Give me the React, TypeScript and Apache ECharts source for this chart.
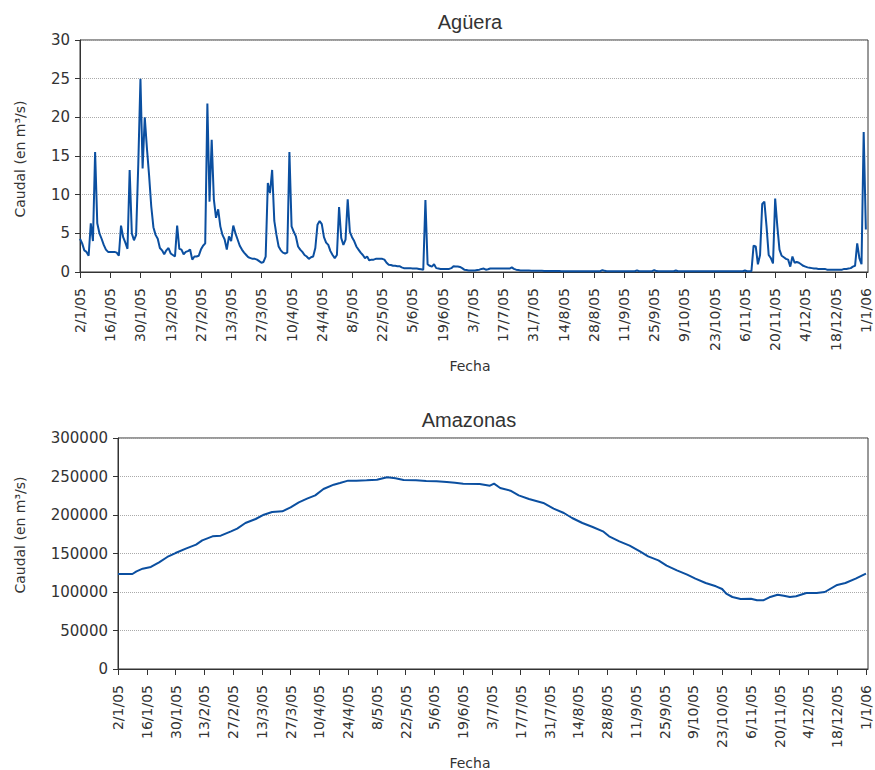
import React, { useEffect, useRef } from 'react';
import * as echarts from 'echarts';

const tickLabels = [
  '2/1/05', '16/1/05', '30/1/05', '13/2/05', '27/2/05', '13/3/05', '27/3/05', '10/4/05', '24/4/05',
  '8/5/05', '22/5/05', '5/6/05', '19/6/05', '3/7/05', '17/7/05', '31/7/05', '14/8/05', '28/8/05',
  '11/9/05', '25/9/05', '9/10/05', '23/10/05', '6/11/05', '20/11/05', '4/12/05', '18/12/05', '1/1/06',
];

// Agüera daily flow, day 0 = 2/1/05
const agueraFlow = [
  4.3, 3.7, 2.8, 2.6, 2.1, 6.3, 4.0, 15.5, 6.3, 5.0,
  4.3, 3.5, 2.9, 2.6, 2.6, 2.6, 2.6, 2.5, 2.1, 6.0,
  4.5, 3.8, 3.0, 13.2, 5.0, 4.1, 4.8, 14.0, 25.0, 13.4,
  20.0, 16.0, 12.5, 8.5, 5.8, 4.8, 4.3, 3.1, 2.8, 2.3,
  2.8, 3.1, 2.4, 2.2, 2.0, 6.0, 3.0, 2.9, 2.3, 2.6,
  2.7, 2.9, 1.6, 2.0, 2.0, 2.1, 2.9, 3.4, 3.7, 21.8,
  9.1, 17.1, 9.4, 7.0, 8.1, 5.9, 4.8, 4.2, 2.9, 4.6,
  4.0, 6.0, 5.0, 4.2, 3.4, 2.9, 2.5, 2.2, 1.9, 1.8,
  1.7, 1.7, 1.6, 1.4, 1.2, 1.3, 2.0, 11.5, 10.2, 13.2,
  6.6, 4.8, 3.3, 2.8, 2.5, 2.4, 2.5, 15.5, 5.9, 5.2,
  4.6, 3.3, 2.9, 2.6, 2.2, 2.0, 1.7, 1.9, 2.0, 3.1,
  6.1, 6.6, 6.2, 4.5, 3.8, 3.5, 2.7, 2.2, 1.8, 2.2,
  8.4, 4.4, 3.5, 4.2, 9.4, 5.2, 4.5, 4.0, 3.3, 2.9,
  2.5, 2.2, 1.8, 2.0, 1.5, 1.6, 1.6, 1.7, 1.7, 1.7,
  1.7, 1.6, 1.2, 0.95, 0.9, 0.8, 0.8, 0.75, 0.75, 0.6,
  0.5, 0.5, 0.5, 0.5, 0.45, 0.45, 0.45, 0.4, 0.35, 0.3,
  9.3, 1.0, 0.8, 0.7, 1.0, 0.5, 0.45, 0.4, 0.4, 0.4,
  0.4, 0.4, 0.5, 0.75, 0.7, 0.7, 0.65, 0.5, 0.3, 0.25,
  0.2, 0.2, 0.2, 0.2, 0.25, 0.3, 0.4, 0.45, 0.3, 0.35,
  0.45, 0.45, 0.45, 0.45, 0.45, 0.45, 0.45, 0.45, 0.45, 0.45,
  0.6, 0.4, 0.3, 0.25, 0.2, 0.2, 0.2, 0.18, 0.18, 0.17,
  0.17, 0.16, 0.16, 0.15, 0.15, 0.14, 0.13, 0.13, 0.13, 0.12,
  0.12, 0.12, 0.12, 0.11, 0.11, 0.11, 0.11, 0.1, 0.1, 0.1,
  0.1, 0.1, 0.1, 0.1, 0.1, 0.1, 0.1, 0.1, 0.1, 0.1,
  0.1, 0.1, 0.25, 0.15, 0.1, 0.1, 0.1, 0.1, 0.1, 0.1,
  0.1, 0.1, 0.1, 0.1, 0.1, 0.1, 0.1, 0.1, 0.22, 0.1,
  0.1, 0.1, 0.1, 0.1, 0.1, 0.1, 0.25, 0.12, 0.1, 0.1,
  0.1, 0.1, 0.1, 0.1, 0.1, 0.1, 0.2, 0.1, 0.1, 0.1,
  0.1, 0.1, 0.1, 0.1, 0.1, 0.1, 0.1, 0.1, 0.1, 0.1,
  0.1, 0.1, 0.1, 0.1, 0.1, 0.1, 0.1, 0.1, 0.1, 0.1,
  0.1, 0.1, 0.1, 0.1, 0.1, 0.1, 0.1, 0.1, 0.2, 0.1,
  0.1, 0.1, 3.4, 3.3, 1.0, 2.2, 8.8, 9.1, 5.9, 2.2,
  1.8, 1.1, 9.5, 5.9, 2.9, 2.1, 1.9, 1.7, 1.6, 0.7,
  2.0, 1.2, 1.3, 1.2, 1.0, 0.8, 0.7, 0.6, 0.55, 0.5,
  0.45, 0.45, 0.4, 0.4, 0.4, 0.4, 0.3, 0.3, 0.3, 0.3,
  0.3, 0.3, 0.3, 0.3, 0.4, 0.4, 0.45, 0.5, 0.7, 0.8,
  3.7, 1.8, 1.0, 18.1, 5.5,
];

// Amazonas flow, sampled days (day 0 = 2/1/05)
const amazonasDays = [
  0, 7, 9, 12, 16, 20, 24, 28, 33, 38,
  41, 46, 50, 55, 58, 62, 67, 71, 75, 80,
  84, 88, 92, 96, 100, 105, 108, 112, 116, 121,
  126, 131, 135, 139, 145, 150, 155, 160, 164, 168,
  176, 181, 183, 186, 191, 195, 200, 207, 212, 217,
  221, 226, 231, 236, 239, 244, 249, 254, 258, 263,
  267, 272, 277, 281, 286, 291, 294, 296, 299, 303,
  308, 311, 314, 317, 321, 324, 327, 330, 335, 340,
  344, 350, 354, 359, 364,
];
const amazonasFlow = [
  123400, 123400, 126800, 130300, 132500, 138500, 145500, 150600, 156300, 161500,
  167100, 172300, 173200, 178800, 182300, 189600, 194800, 200400, 203900, 204800,
  210000, 216500, 221200, 225500, 233800, 239400, 241600, 244600, 244600, 245000,
  245900, 248900, 247600, 245500, 245000, 244200, 243700, 242900, 241800, 240700,
  240300, 238100, 240700, 235100, 231600, 225500, 220800, 215600, 208200, 202600,
  196100, 189600, 184400, 178800, 172300, 165800, 160200, 152800, 146300, 141100,
  134200, 128100, 122500, 117300, 111700, 107400, 103900, 97800, 93500, 90900,
  91300, 89200, 89200, 93100, 96500, 95200, 93500, 94400, 98700, 98700,
  100000, 109100, 111700, 117300, 123800,
];

const FONT = 'DejaVu Sans';
const TEXT = '#333';
const LINE = '#0b4fa0';

export default function App() {
  const ref = useRef<HTMLDivElement>(null);
  useEffect(() => {
    if (!ref.current) return;
    const chart = echarts.init(ref.current, null, { renderer: 'svg' });
    const tickDays = tickLabels.map((_, i) => i * 14);
    const labelMap = new Map<number, string>(tickDays.map((d, i) => [d, tickLabels[i]]));

    const xAxis = (gridIndex: number) => ({
      type: 'value',
      gridIndex,
      min: 0,
      max: 365,
      axisLine: { show: true, onZero: false, lineStyle: { color: TEXT, width: 1 } },
      axisTick: { show: true, length: 6, customValues: tickDays, lineStyle: { color: TEXT } },
      axisLabel: {
        customValues: tickDays,
        rotate: 90,
        margin: 16,
        fontFamily: FONT,
        fontSize: 14,
        color: TEXT,
        formatter: (v: number) => labelMap.get(v) ?? '',
      },
      splitLine: { show: false },
    });
    const yAxis = (gridIndex: number, max: number, interval: number) => ({
      type: 'value',
      gridIndex,
      min: 0,
      max,
      interval,
      axisLine: { show: true, lineStyle: { color: TEXT, width: 1 } },
      axisTick: { show: true, length: 5, lineStyle: { color: TEXT } },
      axisLabel: {
        margin: 10,
        fontFamily: FONT,
        fontSize: 15,
        color: TEXT,
        formatter: (v: number) => String(v),
      },
      splitLine: { show: true, lineStyle: { color: '#aaa', type: 'dotted', width: 1 } },
    });

    const txt = (text: string, x: number, y: number, size: number, rotation = 0, family = FONT) => ({
      type: 'text',
      x,
      y,
      rotation,
      style: {
        text,
        fill: TEXT,
        font: `${size}px '${family}'`,
        align: 'center',
        verticalAlign: 'middle',
      },
    });

    chart.setOption({
      animation: false,
      backgroundColor: '#fff',
      grid: [
        { left: 80, right: 7, top: 40, height: 232, show: true, borderColor: TEXT, borderWidth: 1 },
        { left: 118, right: 7, top: 438, height: 231, show: true, borderColor: TEXT, borderWidth: 1 },
      ],
      xAxis: [xAxis(0), xAxis(1)],
      yAxis: [yAxis(0, 30, 5), yAxis(1, 300000, 50000)],
      series: [
        {
          name: 'Agüera',
          type: 'line',
          xAxisIndex: 0,
          yAxisIndex: 0,
          showSymbol: false,
          lineStyle: { color: LINE, width: 2 },
          data: agueraFlow.map((v, i) => [i, v]),
        },
        {
          name: 'Amazonas',
          type: 'line',
          xAxisIndex: 1,
          yAxisIndex: 1,
          showSymbol: false,
          lineStyle: { color: LINE, width: 2 },
          data: amazonasDays.map((d, i) => [d, amazonasFlow[i]]),
        },
      ],
      graphic: [
        txt('Agüera', 470, 22, 20, 0, 'Liberation Sans'),
        txt('Amazonas', 469, 420, 20, 0, 'Liberation Sans'),
        txt('Fecha', 470, 366, 14),
        txt('Fecha', 470, 763, 14),
        txt('Caudal (en m³/s)', 20, 159, 14, Math.PI / 2),
        txt('Caudal (en m³/s)', 20, 535, 14, Math.PI / 2),
      ],
    });
    return () => chart.dispose();
  }, []);
  return (
    <div
      ref={ref}
      style={{ position: 'absolute', left: 0, top: 0, width: 875, height: 770 }}
    />
  );
}
